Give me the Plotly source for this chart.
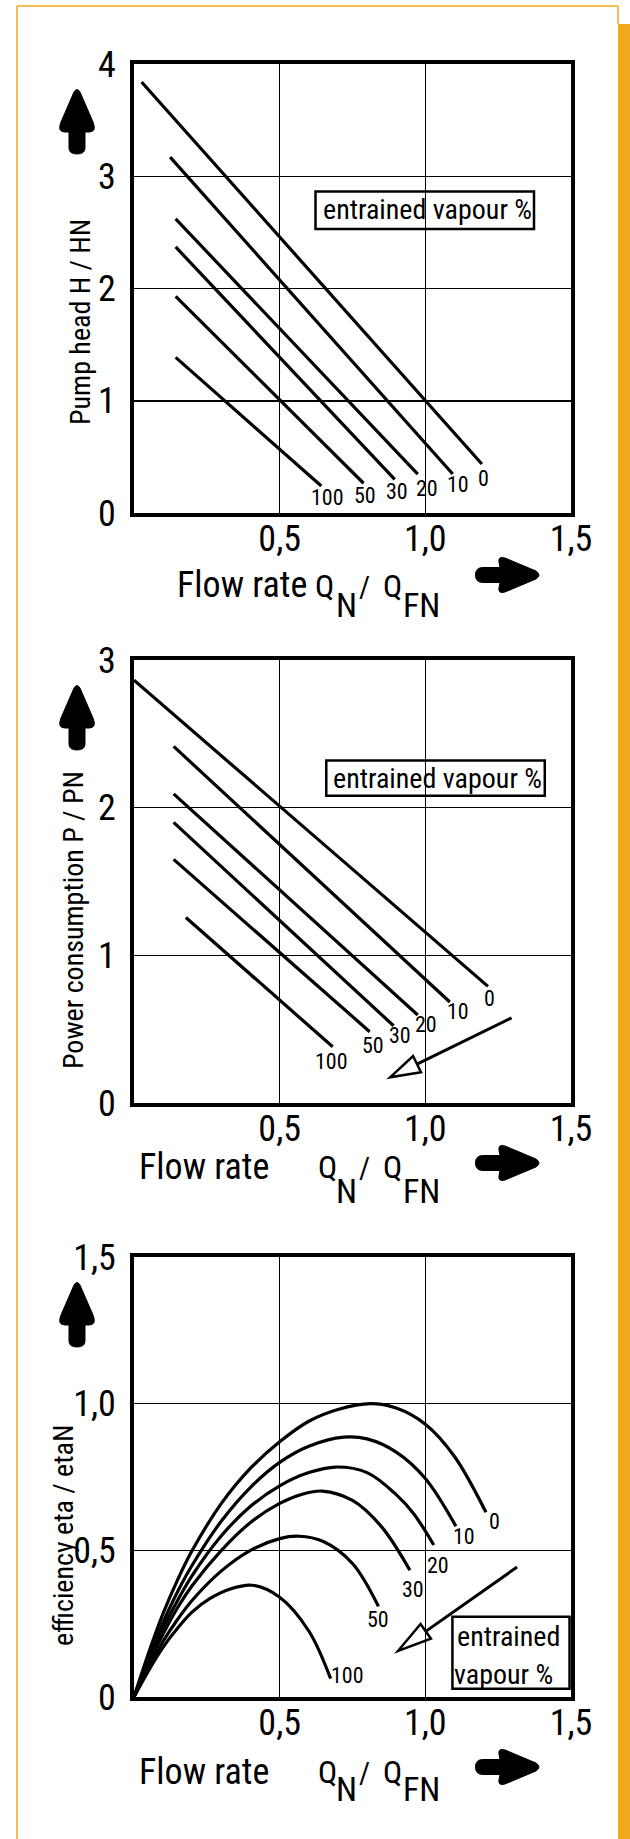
import math
import plotly.graph_objects as go

W, H = 630, 1839
FONT = "Liberation Sans Narrow, Roboto Condensed, DejaVu Sans Condensed, Arial Narrow, sans-serif"
ORANGE = "#F0A81C"

# ---------------- data ----------------
vapour_labels = ["0", "10", "20", "30", "50", "100"]

# Pump head: straight lines (start/end)
head_x_start = [0.026, 0.124, 0.143, 0.143, 0.143, 0.143]
head_y_start = [3.84, 3.17, 2.62, 2.37, 1.93, 1.386]
head_x_end = [1.194, 1.094, 0.974, 0.895, 0.788, 0.643]
head_y_end = [0.437, 0.347, 0.347, 0.30, 0.265, 0.24]
head_lab_x = [1.199, 1.113, 1.005, 0.904, 0.793, 0.664]
head_lab_y = [0.31, 0.25, 0.222, 0.19, 0.157, 0.14]

# Power consumption: straight lines (start/end)
power_x_start = [0.0, 0.136, 0.136, 0.136, 0.136, 0.178]
power_y_start = [2.863, 2.415, 2.093, 1.9, 1.65, 1.256]
power_x_end = [1.215, 1.084, 0.974, 0.891, 0.809, 0.682]
power_y_end = [0.79, 0.684, 0.596, 0.523, 0.483, 0.381]
power_lab_x = [1.219, 1.111, 1.001, 0.912, 0.822, 0.678]
power_lab_y = [0.711, 0.617, 0.53, 0.456, 0.39, 0.282]

# Efficiency curves
eff_x_0 = [0, 0.05, 0.1, 0.15, 0.2, 0.3, 0.4, 0.5, 0.6, 0.7, 0.812, 0.9, 1.0, 1.1, 1.208]
eff_y_0 = [0, 0.15, 0.285, 0.40, 0.50, 0.66, 0.78, 0.87, 0.94, 0.98, 1.0, 0.985, 0.93, 0.82, 0.63]
eff_x_10 = [0, 0.05, 0.1, 0.15, 0.2, 0.3, 0.4, 0.5, 0.6, 0.72, 0.8, 0.9, 1.0, 1.105]
eff_y_10 = [0, 0.135, 0.255, 0.36, 0.45, 0.60, 0.715, 0.80, 0.855, 0.886, 0.88, 0.835, 0.745, 0.582]
eff_x_20 = [0, 0.05, 0.1, 0.15, 0.2, 0.3, 0.4, 0.5, 0.6, 0.692, 0.8, 0.9, 0.96, 1.029]
eff_y_20 = [0, 0.125, 0.235, 0.33, 0.415, 0.55, 0.65, 0.72, 0.765, 0.784, 0.765, 0.69, 0.625, 0.518]
eff_x_30 = [0, 0.05, 0.1, 0.15, 0.2, 0.3, 0.4, 0.5, 0.58, 0.646, 0.75, 0.85, 0.947]
eff_y_30 = [0, 0.115, 0.215, 0.305, 0.38, 0.50, 0.595, 0.66, 0.692, 0.702, 0.67, 0.58, 0.432]
eff_x_50 = [0, 0.05, 0.1, 0.15, 0.2, 0.3, 0.4, 0.5, 0.566, 0.65, 0.75, 0.839]
eff_y_50 = [0, 0.10, 0.19, 0.265, 0.33, 0.43, 0.50, 0.54, 0.548, 0.53, 0.455, 0.309]
eff_x_100 = [0, 0.05, 0.1, 0.15, 0.2, 0.26, 0.33, 0.406, 0.5, 0.6, 0.675]
eff_y_100 = [0, 0.09, 0.17, 0.235, 0.29, 0.335, 0.368, 0.381, 0.34, 0.225, 0.0625]
eff_lab_x = [1.238, 1.132, 1.043, 0.956, 0.839, 0.733]
eff_lab_y = [0.60, 0.547, 0.449, 0.368, 0.264, 0.072]

x_tickvals = [0.5, 1.0, 1.5]
x_ticktext = ["0,5", "1,0", "1,5"]
head_tickvals = [0, 1, 2, 3, 4]
head_ticktext = ["0", "1", "2", "3", "4"]
power_tickvals = [0, 1, 2, 3]
power_ticktext = ["0", "1", "2", "3"]
eff_tickvals = [0, 0.5, 1.0, 1.5]
eff_ticktext = ["0", "0,5", "1,0", "1,5"]

# ---------------- layout geometry (pixels) ----------------
PL, PR = 134, 571
plots = [  # (top, bottom)
    (64, 513),
    (660, 1103),
    (1257, 1697),
]


def PX(x):
    return x / W


def PY(y):
    return 1 - y / H


fig = go.Figure()

for i in range(6):
    fig.add_trace(go.Scatter(x=[head_x_start[i], head_x_end[i]], y=[head_y_start[i], head_y_end[i]],
                             mode="lines", line=dict(color="black", width=3.2),
                             xaxis="x", yaxis="y", hoverinfo="skip"))
for i in range(6):
    fig.add_trace(go.Scatter(x=[power_x_start[i], power_x_end[i]], y=[power_y_start[i], power_y_end[i]],
                             mode="lines", line=dict(color="black", width=3.2),
                             xaxis="x2", yaxis="y2", hoverinfo="skip"))
eff_series = [(eff_x_0, eff_y_0), (eff_x_10, eff_y_10), (eff_x_20, eff_y_20),
              (eff_x_30, eff_y_30), (eff_x_50, eff_y_50), (eff_x_100, eff_y_100)]
for ex, ey in eff_series:
    fig.add_trace(go.Scatter(x=ex, y=ey, mode="lines",
                             line=dict(color="black", width=3.2, shape="spline", smoothing=1.0),
                             xaxis="x3", yaxis="y3", hoverinfo="skip"))

annotations = []
shapes = []

for i, lab in enumerate(vapour_labels):
    annotations.append(dict(x=head_lab_x[i], y=head_lab_y[i], xref="x", yref="y", text=lab,
                            showarrow=False, font=dict(family=FONT, size=22, color="black")))
    annotations.append(dict(x=power_lab_x[i], y=power_lab_y[i], xref="x2", yref="y2", text=lab,
                            showarrow=False, font=dict(family=FONT, size=22, color="black")))
    annotations.append(dict(x=eff_lab_x[i], y=eff_lab_y[i], xref="x3", yref="y3", text=lab,
                            showarrow=False, font=dict(family=FONT, size=22, color="black")))

# legend boxes
shapes.append(dict(type="rect", xref="x", yref="y", x0=0.623, x1=1.373, y0=2.53, y1=2.865,
                   line=dict(color="black", width=2.5)))
annotations.append(dict(x=1.008, y=2.70, xref="x", yref="y", text="entrained vapour %",
                        showarrow=False, font=dict(family=FONT, size=28, color="black")))
shapes.append(dict(type="rect", xref="x2", yref="y2", x0=0.66, x1=1.41, y0=2.08, y1=2.32,
                   line=dict(color="black", width=2.5)))
annotations.append(dict(x=1.043, y=2.20, xref="x2", yref="y2", text="entrained vapour %",
                        showarrow=False, font=dict(family=FONT, size=28, color="black")))
shapes.append(dict(type="rect", xref="x3", yref="y3", x0=1.093, x1=1.495, y0=0.028, y1=0.274,
                   line=dict(color="black", width=2.5)))
annotations.append(dict(x=1.287, y=0.205, xref="x3", yref="y3", text="entrained",
                        showarrow=False, font=dict(family=FONT, size=28, color="black")))
annotations.append(dict(x=1.093, y=0.077, xref="x3", yref="y3", text="vapour %", xanchor="left",
                        showarrow=False, font=dict(family=FONT, size=28, color="black")))


def hollow_arrow(xref, yref, tail, tip, sx, sy, head_len, head_half):
    tx, ty = tail
    hx, hy = tip
    dxp = (tx - hx) * sx
    dyp = (ty - hy) * sy
    L = math.hypot(dxp, dyp)
    ux, uy = dxp / L, dyp / L
    bx, by = ux * head_len, uy * head_len
    qx, qy = -uy * head_half, ux * head_half
    c1 = (hx + (bx + qx) / sx, hy + (by + qy) / sy)
    c2 = (hx + (bx - qx) / sx, hy + (by - qy) / sy)
    base = (hx + bx / sx, hy + by / sy)
    return [dict(type="line", xref=xref, yref=yref, x0=tx, y0=ty, x1=base[0], y1=base[1],
                 line=dict(color="black", width=3)),
            dict(type="path", xref=xref, yref=yref,
                 path=f"M {hx},{hy} L {c1[0]},{c1[1]} L {c2[0]},{c2[1]} Z",
                 line=dict(color="black", width=2.5), fillcolor="rgba(0,0,0,0)")]


sxp = (PR - PL) / 1.5
shapes += hollow_arrow("x2", "y2", (1.296, 0.577), (0.879, 0.174), sxp, (1103 - 660) / 3, 30, 9)
shapes += hollow_arrow("x3", "y3", (1.315, 0.443), (0.906, 0.157), sxp, (1697 - 1257) / 1.5, 34, 9)


def P(x, y):
    return f"{PX(x):.5f},{PY(y):.5f}"


# solid up arrows (rounded)
for (top, bot) in plots:
    cx = 77
    t = top + 25
    path = (f"M {P(cx - 3, t + 3)} Q {P(cx, t - 2)} {P(cx + 3, t + 3)} "
            f"L {P(cx + 16, t + 33)} Q {P(cx + 20, t + 43)} {P(cx + 12, t + 43)} "
            f"L {P(cx + 8, t + 43)} L {P(cx + 8, t + 59)} Q {P(cx + 8, t + 65)} {P(cx, t + 65)} "
            f"Q {P(cx - 8, t + 65)} {P(cx - 8, t + 59)} L {P(cx - 8, t + 43)} L {P(cx - 12, t + 43)} "
            f"Q {P(cx - 20, t + 43)} {P(cx - 16, t + 33)} Z")
    shapes.append(dict(type="path", xref="paper", yref="paper", path=path,
                       fillcolor="black", line=dict(color="black", width=1)))

# solid right arrows (rounded)
for (top, bot), off in zip(plots, [62, 60, 70]):
    cy = bot + off
    path = (f"M {P(483, cy - 7.5)} L {P(500, cy - 7.5)} L {P(499, cy - 13)} "
            f"Q {P(498, cy - 19)} {P(505, cy - 17)} L {P(536, cy - 4)} Q {P(542, cy)} {P(536, cy + 4)} "
            f"L {P(505, cy + 17)} Q {P(498, cy + 19)} {P(499, cy + 13)} L {P(500, cy + 7.5)} "
            f"L {P(483, cy + 7.5)} Q {P(475.5, cy + 7.5)} {P(475.5, cy)} Q {P(475.5, cy - 7.5)} {P(483, cy - 7.5)} Z")
    shapes.append(dict(type="path", xref="paper", yref="paper", path=path,
                       fillcolor="black", line=dict(color="black", width=1)))


def txt(x, y, s, size, anchor="left"):
    annotations.append(dict(x=PX(x), y=PY(y), xref="paper", yref="paper", text=s, showarrow=False,
                            xanchor=anchor, yanchor="middle",
                            font=dict(family=FONT, size=size, color="black")))


title_cfg = [(175, 85, 84, 104), (137, 77, 75, 100), (137, 88, 86, 104)]
for (top, bot), (fx, fb, qb, sb) in zip(plots, title_cfg):
    txt(fx, bot + fb - 13, "Flow rate", 36)
    txt(313 if fx == 175 else 316, bot + qb - 11, "Q", 32)
    txt(334, bot + sb - 12, "N", 34)
    txt(357, bot + qb - 11, "/", 30)
    txt(381, bot + qb - 11, "Q", 32)
    txt(401, bot + sb - 12, "FN", 34)

ytitles = [("Pump head H / HN", 80, 322, 28), ("Power consumption P / PN", 73, 920, 28),
           ("efficiency eta / etaN", 63, 1536, 28)]
for s, x, y, fs in ytitles:
    annotations.append(dict(x=PX(x), y=PY(y), xref="paper", yref="paper", text=s, showarrow=False,
                            textangle=-90, xanchor="center", yanchor="middle",
                            font=dict(family=FONT, size=fs, color="black")))

shapes += [
    dict(type="line", xref="paper", yref="paper", x0=PX(17), x1=PX(618), y0=PY(6), y1=PY(6),
         line=dict(color=ORANGE, width=1.5)),
    dict(type="line", xref="paper", yref="paper", x0=PX(17), x1=PX(17), y0=PY(6), y1=PY(1839),
         line=dict(color=ORANGE, width=1.5)),
    dict(type="line", xref="paper", yref="paper", x0=PX(618), x1=PX(618), y0=PY(6), y1=PY(24),
         line=dict(color=ORANGE, width=1.5)),
    dict(type="rect", xref="paper", yref="paper", x0=PX(618), x1=PX(630), y0=PY(24), y1=PY(1839),
         fillcolor=ORANGE, line=dict(width=0)),
]


def xaxis(anchor):
    return dict(domain=[PX(PL), PX(PR)], range=[0, 1.5], anchor=anchor, automargin=False,
                tickvals=x_tickvals, ticktext=x_ticktext, showgrid=True, gridcolor="black",
                gridwidth=1.5, zeroline=False, showline=True, linecolor="black", linewidth=4,
                mirror=True, ticks="", ticklabelstandoff=-9,
                tickfont=dict(family=FONT, size=36, color="black"), fixedrange=True)


def yaxis(top, bot, rng, tv, tt, anchor):
    return dict(domain=[PY(bot), PY(top)], range=rng, anchor=anchor, automargin=False,
                tickvals=tv, ticktext=tt, showgrid=True, gridcolor="black",
                gridwidth=1.5, zeroline=False, showline=True, linecolor="black", linewidth=4,
                mirror=True, ticks="", ticklabelstandoff=7,
                tickfont=dict(family=FONT, size=36, color="black"), fixedrange=True)


fig.update_layout(
    width=W, height=H, autosize=False,
    margin=dict(l=0, r=0, t=0, b=0, pad=0, autoexpand=False),
    paper_bgcolor="white", plot_bgcolor="white", showlegend=False,
    xaxis=xaxis("y"), xaxis2=xaxis("y2"), xaxis3=xaxis("y3"),
    yaxis=yaxis(plots[0][0], plots[0][1], [0, 4], head_tickvals, head_ticktext, "x"),
    yaxis2=yaxis(plots[1][0], plots[1][1], [0, 3], power_tickvals, power_ticktext, "x2"),
    yaxis3=yaxis(plots[2][0], plots[2][1], [0, 1.5], eff_tickvals, eff_ticktext, "x3"),
    annotations=annotations, shapes=shapes,
)

fig.write_html(
    "out.html",
    config={"displayModeBar": False, "staticPlot": True},
    post_script="document.body.style.margin='0';document.body.style.padding='0';"
                "document.documentElement.style.overflow='hidden';",
)
